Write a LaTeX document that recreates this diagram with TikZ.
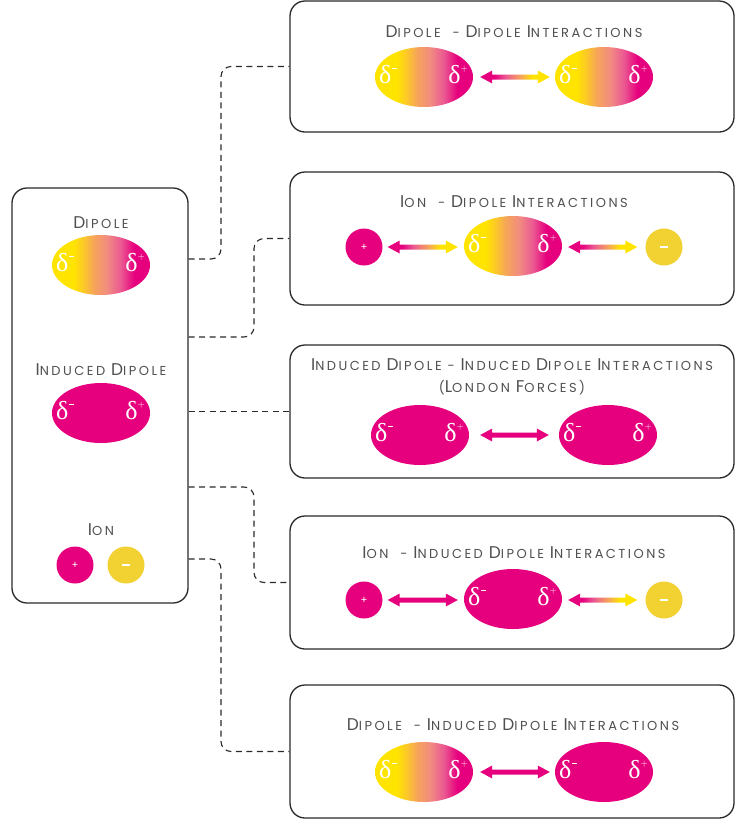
\documentclass[tikz,border=0pt]{standalone}
\usepackage{fontspec}
\setmainfont{Poppins}[LetterSpace=19]
\newfontfamily\grk{Liberation Serif}
\usetikzlibrary{calc,shapes.geometric}

\definecolor{mag}{HTML}{E6007E}
\definecolor{yel}{HTML}{FFE400}
\definecolor{yelor}{HTML}{FDC828}
\definecolor{orng}{HTML}{F6A45A}
\definecolor{salm}{HTML}{F18C80}
\definecolor{pnk}{HTML}{EB5A92}
\definecolor{ionyel}{HTML}{F2D133}
\definecolor{txt}{HTML}{505050}
\definecolor{frm}{HTML}{2A2A2A}

\pgfdeclarehorizontalshading{dipshade}{100bp}{color(0bp)=(yel); color(36bp)=(yel); color(41bp)=(yelor); color(46.5bp)=(orng); color(53bp)=(salm); color(60bp)=(pnk); color(67bp)=(mag); color(100bp)=(mag)}
\pgfdeclarehorizontalshading{arrshade}{100bp}{color(0bp)=(mag); color(35bp)=(mag); color(43.5bp)=(pnk); color(54bp)=(orng); color(62.5bp)=(yel); color(100bp)=(yel)}

\newcommand\Cap[1]{{\fontsize{17}{17}\selectfont #1}}
\newcommand\dmin{{\grk δ}\hspace{1pt}\raisebox{15pt}{\rule{4.5pt}{1.4pt}}}
\newcommand\dplu{{\grk δ}\raisebox{12pt}{\fontsize{9}{9}\selectfont$+$}}

\newcommand\dipnode[4]{%
  \node[#1] (#2) at (#3,#4) {};
  \node[dl] (#2m) at ($(#2.center)+(-36,-2)$) {\dmin};
  \node[dl] (#2p) at ($(#2.center)+(34,-2)$) {\dplu};
}

\newcommand\dblarr[3]{%
  \path[#1] let \p1=(#2), \p2=(#3) in
   (\x1,\y1) -- (\x1+12pt,\y1+6.5pt) -- (\x1+12pt,\y1+2.5pt) -- (\x2-12pt,\y1+2.5pt)
   -- (\x2-12pt,\y1+6.5pt) -- (\x2,\y1) -- (\x2-12pt,\y1-6.5pt) -- (\x2-12pt,\y1-2.5pt)
   -- (\x1+12pt,\y1-2.5pt) -- (\x1+12pt,\y1-6.5pt) -- cycle;
}

\begin{document}
\begin{tikzpicture}[x=1pt,y=-1pt,
  frame/.style={draw=frm, line width=1.3pt, rounded corners=15pt, inner sep=0pt, fill=white},
  rbox/.style={frame, minimum width=444pt, minimum height=133pt},
  dipole/.style={ellipse, minimum width=98pt, minimum height=60pt, inner sep=0pt, shade, shading=dipshade},
  induced/.style={ellipse, minimum width=98pt, minimum height=60pt, inner sep=0pt, fill=mag},
  pion/.style={circle, minimum size=37pt, inner sep=0pt, fill=mag, text=white, font=\fontsize{10}{10}\selectfont},
  nion/.style={circle, minimum size=37pt, inner sep=0pt, fill=ionyel},
  dl/.style={text=white, font=\fontsize{26}{26}\selectfont, inner sep=0pt},
  ttl/.style={text=txt, font=\fontsize{13}{22}\selectfont, align=center, inner sep=0pt},
  conn/.style={draw=frm, line width=1.1pt, dash pattern=on 6pt off 4.5pt, rounded corners=10pt},
  garr/.style={shade, shading=arrshade},
  marr/.style={fill=mag}
]
\useasboundingbox (0,0) rectangle (735,823);

% frames
\node[frame, minimum width=176pt, minimum height=415pt] (L) at (100,395.5) {};
\node[rbox, minimum height=131pt] (B1) at (512,66.5) {};
\node[rbox] (B2) at (512,238.5) {};
\node[rbox] (B3) at (512,411.5) {};
\node[rbox] (B4) at (512,582.5) {};
\node[rbox] (B5) at (512,751.5) {};

% connectors
\draw[conn] (L.east |- 0,259) -- (221,259) |- (B1.west);
\draw[conn] (L.east |- 0,337) -- (254,337) |- (B2.west);
\draw[conn] (L.east |- B3.west) -- (B3.west);
\draw[conn] (L.east |- 0,487) -- (254,487) |- (B4.west);
\draw[conn] (L.east |- 0,559) -- (221,559) |- (B5.west);

% left box
\node[ttl] (tL1) at (101,223) {\Cap{D}IPOLE};
\dipnode{dipole}{Ld}{101}{265}
\node[ttl] (tL2) at (101,370) {\Cap{I}NDUCED \Cap{D}IPOLE};
\dipnode{induced}{Li}{101}{413}
\node[ttl] (tL3) at (101,530) {\Cap{I}ON};
\node[pion] (Lp) at (75,565) {+};
\node[nion] (Ln) at (126,565) {\color{white}\rule{8pt}{1.4pt}};

% box 1
\node[ttl] (t1) at (514,32) {\Cap{D}IPOLE\ \ - \Cap{D}IPOLE \Cap{I}NTERACTIONS};
\dipnode{dipole}{d1a}{424}{77}
\dipnode{dipole}{d1b}{604}{77}
\dblarr{garr}{$(d1a.east)+(7,0)$}{$(d1b.west)+(-5,0)$}

% box 2
\node[ttl] (t2) at (514,202) {\Cap{I}ON\ \ - \Cap{D}IPOLE \Cap{I}NTERACTIONS};
\node[pion] (i2a) at (364,247) {+};
\dipnode{dipole}{d2}{513}{246}
\node[nion] (i2b) at (664,247) {\color{white}\rule{8pt}{1.4pt}};
\dblarr{garr}{$(i2a.east)+(5,0)$}{$(d2.west)+(-6,1)$}
\dblarr{garr}{$(d2.east)+(6,1)$}{$(i2b.west)+(-8,0)$}

% box 3
\node[ttl] (t3) at (512,377) {\Cap{I}NDUCED \Cap{D}IPOLE - \Cap{I}NDUCED \Cap{D}IPOLE \Cap{I}NTERACTIONS\\(\Cap{L}ONDON \Cap{F}ORCES)};
\dipnode{induced}{e3a}{420}{435}
\dipnode{induced}{e3b}{608}{435}
\dblarr{marr}{$(e3a.east)+(11,0)$}{$(e3b.west)+(-10,0)$}

% box 4
\node[ttl] (t4) at (514,553) {\Cap{I}ON\ \ - \Cap{I}NDUCED \Cap{D}IPOLE \Cap{I}NTERACTIONS};
\node[pion] (i4a) at (364,600) {+};
\dipnode{induced}{e4}{513}{599}
\node[nion] (i4b) at (664,600) {\color{white}\rule{8pt}{1.4pt}};
\dblarr{marr}{$(i4a.east)+(5,0)$}{$(e4.west)+(-6,1)$}
\dblarr{garr}{$(e4.east)+(6,1)$}{$(i4b.west)+(-8,0)$}

% box 5
\node[ttl] (t5) at (513,725) {\Cap{D}IPOLE\ \ - \Cap{I}NDUCED \Cap{D}IPOLE \Cap{I}NTERACTIONS};
\dipnode{dipole}{d5a}{424}{772}
\dipnode{induced}{e5b}{604}{772}
\dblarr{marr}{$(d5a.east)+(7,0)$}{$(e5b.west)+(-5,0)$}
\end{tikzpicture}
\end{document}
